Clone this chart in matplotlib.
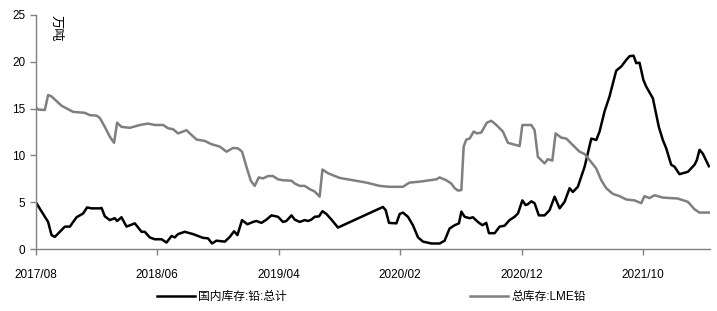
import matplotlib
matplotlib.use("Agg")
import matplotlib.pyplot as plt
import numpy as np

plt.rcParams["font.family"] = ["Liberation Sans", "Noto Sans CJK SC", "DejaVu Sans"]

# months elapsed since 2017/08, values in 万吨
domestic_month = [
    0.0, 0.74, 1.01, 1.29, 1.56, 2.39, 2.80, 3.35, 3.89, 4.22, 4.58, 5.27, 5.41, 5.68,
    6.09, 6.50, 6.69, 7.05, 7.47, 8.15, 8.70, 8.97, 9.38, 9.79, 10.35, 10.76, 11.17,
    11.44, 11.71, 12.26, 12.95, 13.77, 14.18, 14.51, 14.87, 15.56, 15.97, 16.32, 16.60,
    16.98, 17.42, 17.88, 18.16, 18.58, 18.99, 19.40, 19.94, 20.35, 20.63, 21.05, 21.32,
    21.73, 22.14, 22.41, 22.69, 22.96, 23.32, 23.60, 23.93, 24.34, 24.88, 28.58, 28.81,
    29.08, 29.69, 29.96, 30.23, 30.64, 31.05, 31.47, 31.88, 32.57, 33.25, 33.66, 34.07,
    34.49, 34.84, 35.04, 35.31, 35.72, 35.99, 36.40, 36.77, 37.09, 37.31, 37.78, 38.19,
    38.60, 39.01, 39.42, 39.70, 40.06, 40.33, 40.52, 40.80, 41.07, 41.42, 41.89, 42.30,
    42.72, 43.13, 43.54, 43.95, 44.22, 44.63, 45.19, 45.74, 46.15, 46.42, 46.83, 47.24,
    47.79, 48.21, 48.62, 48.89, 49.22, 49.44, 49.71, 50.03, 50.26, 50.81, 51.30, 51.63,
    51.91, 52.32, 52.59, 53.00, 53.28, 53.69, 54.24, 54.43, 54.65, 54.92, 55.42,
]
domestic_value = [
    5.0, 3.45, 2.9, 1.5, 1.3, 2.4, 2.4, 3.4, 3.8, 4.45, 4.35, 4.35, 4.4, 3.5,
    3.1, 3.3, 3.0, 3.4, 2.4, 2.75, 1.85, 1.85, 1.25, 1.05, 1.05, 0.7, 1.4,
    1.25, 1.6, 1.85, 1.6, 1.2, 1.15, 0.6, 0.9, 0.8, 1.3, 1.9, 1.5,
    3.1, 2.65, 2.9, 3.0, 2.8, 3.15, 3.6, 3.45, 2.9, 3.0, 3.6, 3.15,
    2.9, 3.1, 3.0, 3.15, 3.45, 3.5, 4.05, 3.75, 3.15, 2.3, 4.5, 4.15,
    2.8, 2.75, 3.75, 3.9, 3.45, 2.55, 1.25, 0.8, 0.6, 0.6, 0.9, 2.2,
    2.55, 2.75, 4.0, 3.45, 3.3, 3.4, 2.9, 2.55, 2.8, 1.7, 1.7, 2.4,
    2.5, 3.1, 3.45, 3.8, 5.2, 4.7, 4.8, 5.1, 4.9, 3.6, 3.6, 4.15,
    5.6, 4.35, 5.05, 6.5, 6.1, 6.65, 8.8, 11.8, 11.65, 12.55, 14.7, 16.3,
    19.05, 19.5, 20.2, 20.6, 20.65, 19.85, 19.9, 18.05, 17.35, 16.1, 13.05, 11.65,
    10.75, 9.0, 8.8, 8.0, 8.1, 8.25, 9.0, 9.5, 10.6, 10.2, 8.85,
]

lme_month = [
    0.0, 0.19, 0.74, 1.01, 1.29, 2.12, 3.07, 4.03, 4.44, 5.00, 5.27, 5.68, 6.09, 6.44,
    6.69, 7.05, 7.74, 8.56, 9.24, 9.79, 10.48, 10.89, 11.30, 11.71, 12.12, 12.40, 12.81,
    13.23, 13.91, 14.46, 15.14, 15.70, 16.24, 16.65, 16.98, 17.34, 17.70, 18.02, 18.35,
    18.71, 19.12, 19.53, 19.94, 20.35, 21.05, 21.32, 21.73, 22.14, 22.55, 22.96, 23.37,
    23.60, 24.06, 25.02, 26.12, 27.22, 28.31, 29.14, 30.23, 30.64, 30.78, 31.60, 32.43,
    32.98, 33.25, 33.80, 34.21, 34.49, 34.76, 35.04, 35.23, 35.45, 35.72, 36.05, 36.32,
    36.68, 37.14, 37.51, 37.92, 38.46, 38.87, 39.28, 39.84, 40.06, 40.80, 41.07, 41.34,
    41.89, 42.16, 42.53, 42.80, 43.27, 43.68, 44.22, 44.77, 45.19, 45.60, 46.15, 46.56,
    46.97, 47.51, 48.07, 48.62, 49.30, 49.85, 50.12, 50.53, 50.95, 51.63, 52.86, 53.69,
    54.24, 54.65, 55.42,
]
lme_value = [
    15.15, 14.9, 14.85, 16.45, 16.3, 15.3, 14.65, 14.55, 14.3, 14.25, 14.0, 13.05, 12.0, 11.35,
    13.5, 13.05, 12.95, 13.25, 13.4, 13.25, 13.25, 12.9, 12.8, 12.35, 12.55, 12.7, 12.2,
    11.7, 11.55, 11.2, 10.95, 10.4, 10.8, 10.75, 10.4, 8.8, 7.3, 6.75, 7.65,
    7.55, 7.8, 7.8, 7.45, 7.35, 7.3, 7.0, 6.75, 6.75, 6.4, 6.15, 5.6,
    8.5, 8.1, 7.6, 7.35, 7.1, 6.75, 6.65, 6.65, 7.0, 7.1, 7.2, 7.35,
    7.45, 7.65, 7.35, 7.0, 6.5, 6.25, 6.3, 10.95, 11.7, 11.8, 12.55, 12.35,
    12.45, 13.5, 13.7, 13.25, 12.55, 11.35, 11.2, 11.0, 13.25, 13.25, 12.7, 9.85,
    9.15, 9.6, 9.45, 12.35, 11.9, 11.8, 11.1, 10.4, 10.15, 9.5, 8.6, 7.35,
    6.5, 5.9, 5.65, 5.3, 5.2, 4.9, 5.65, 5.45, 5.75, 5.5, 5.4, 5.05,
    4.25, 3.9, 3.9,
]

tick_months = [0, 10, 20, 30, 40, 50]
tick_labels = ["2017/08", "2018/06", "2019/04", "2020/02", "2020/12", "2021/10"]

fig = plt.figure(figsize=(7.17, 3.11), dpi=100)
ax = fig.add_axes([0.050, 0.199, 0.940, 0.753])

ax.plot(domestic_month, domestic_value, color="#000000", lw=1.8, label="国内库存:铅:总计")
ax.plot(lme_month, lme_value, color="#7f7f7f", lw=1.8, label="总库存:LME铅")

ax.set_xlim(0, 55.5)
ax.set_ylim(0, 25)
ax.set_yticks(np.arange(0, 26, 5))
ax.set_xticks(tick_months)
ax.set_xticklabels(tick_labels)

for side in ("top", "right"):
    ax.spines[side].set_visible(False)
for side in ("left", "bottom"):
    ax.spines[side].set_color("#808080")
    ax.spines[side].set_linewidth(1.0)
ax.tick_params(axis="both", colors="#808080", labelcolor="#000000", labelsize=8.5,
               direction="out", length=4, width=1.0)
ax.tick_params(axis="x", pad=10)

ax.text(0.030, 1.0, "万吨", transform=ax.transAxes, rotation=270, fontsize=9.5,
        ha="center", va="top")

fig.legend(loc="center", bbox_to_anchor=(0.518, 0.045), ncol=2, frameon=False,
           fontsize=8.5, handlelength=3.2, columnspacing=15.5, handletextpad=0.3)

fig.savefig("out.png", dpi=100)
